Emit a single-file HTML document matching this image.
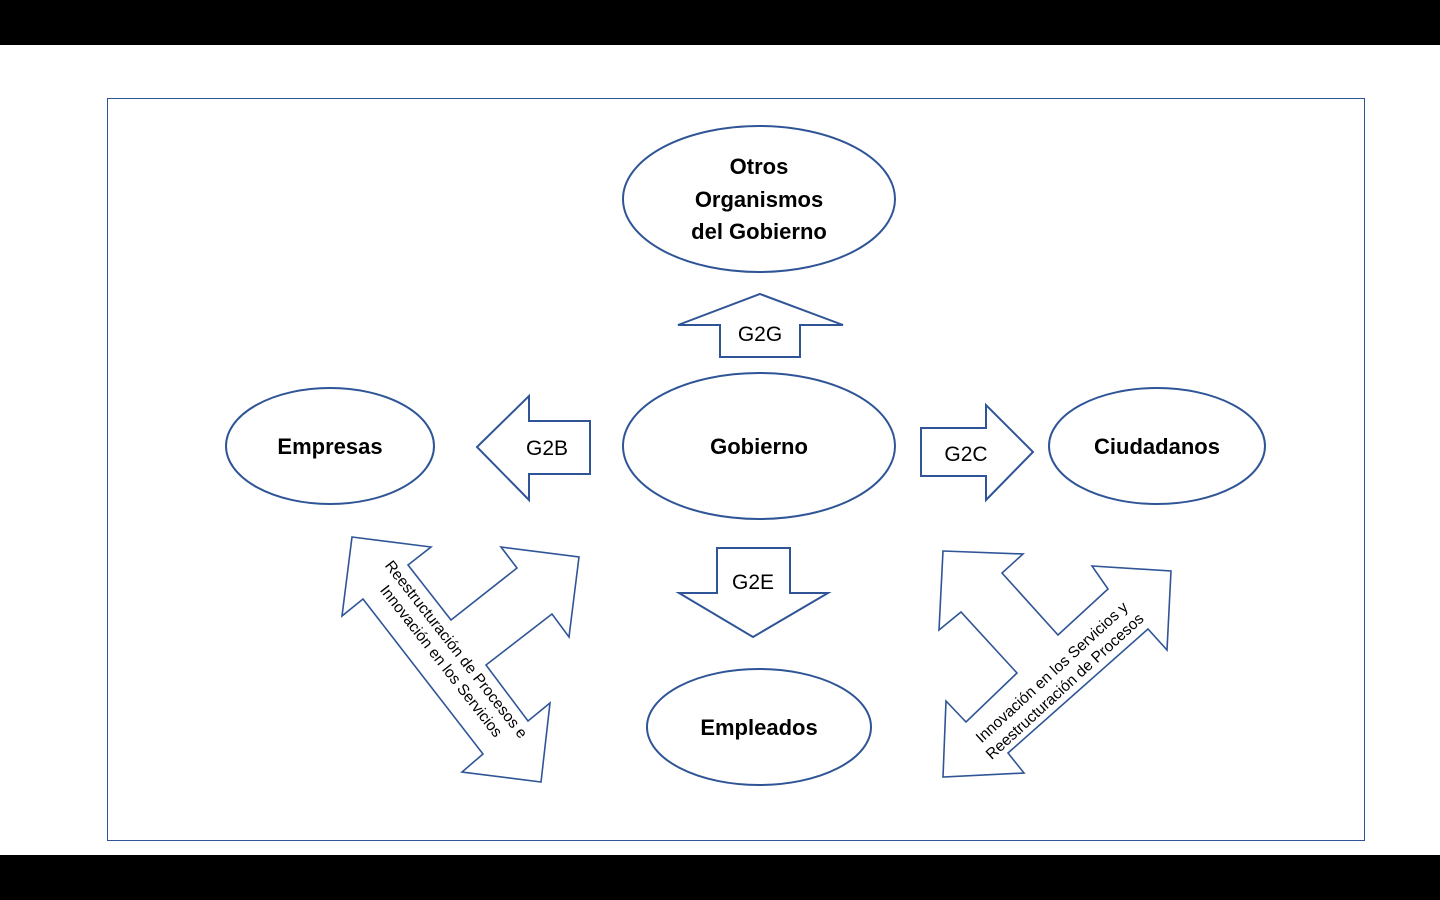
<!DOCTYPE html>
<html><head><meta charset="utf-8"><style>
html,body{margin:0;padding:0;background:#fff;}
svg{display:block;}
text{font-family:"Liberation Sans",Calibri,sans-serif;}
</style></head><body>
<svg width="1440" height="900" viewBox="0 0 1440 900" xmlns="http://www.w3.org/2000/svg">
<rect x="0" y="0" width="1440" height="900" fill="#fff"/>
<rect x="0" y="0" width="1440" height="45" fill="#000"/>
<rect x="0" y="855" width="1440" height="45" fill="#000"/>
<rect x="107.5" y="98.5" width="1257" height="742" fill="none" stroke="#2f5597" stroke-width="1"/>
<g fill="#fff" stroke="#2f5597" stroke-width="2">
<ellipse cx="759" cy="199" rx="136" ry="73"/>
<ellipse cx="759" cy="446" rx="136" ry="73"/>
<ellipse cx="330" cy="446" rx="104" ry="58"/>
<ellipse cx="1157" cy="446" rx="108" ry="58"/>
<ellipse cx="759" cy="727" rx="112" ry="58"/>
<polygon points="760,294 843,325 800,325 800,357 720,357 720,325 678,325"/>
<polygon points="477,447 529,396 529,421 590,421 590,474 529,474 529,500"/>
<polygon points="1033,452 986,405 986,428 921,428 921,476 986,476 986,500"/>
<polygon points="753,637 828,593 790,593 790,548 717,548 717,593 679,593"/>
<polygon stroke-width="1.6" points="352,537 431,547 408,565 451,620 517,568 501,547 579,557 569,637 552,614 486,665 528,721 550,703 541,782 462,772 483,754 363,599 342,616"/>
<polygon stroke-width="1.6" points="943,551 1023,554 1002,573 1058,635 1108,589 1092,566 1171,571 1167,650 1148,629 1008,753 1024,773 943,777 946,701 966,722 1017,673 961,612 939,630"/>
</g>
<g font-weight="bold" font-size="22" fill="#000" text-anchor="middle">
<text x="759" y="174">Otros</text>
<text x="759" y="207">Organismos</text>
<text x="759" y="239">del Gobierno</text>
<text x="759" y="454">Gobierno</text>
<text x="330" y="454">Empresas</text>
<text x="1157" y="454">Ciudadanos</text>
<text x="759" y="735">Empleados</text>
</g>
<g font-size="21" fill="#000" text-anchor="middle">
<text x="760" y="341">G2G</text>
<text x="547" y="455">G2B</text>
<text x="966" y="461">G2C</text>
<text x="753" y="589">G2E</text>
</g>
<g font-size="15.5" fill="#000" text-anchor="middle">
<g transform="translate(449,655) rotate(52)">
<text x="0" y="-4">Reestructuración de Procesos e</text>
<text x="0" y="15">Innovación en los Servicios</text>
</g>
<g transform="translate(1058,679) rotate(-42.5)">
<text x="0" y="-4">Innovación en los Servicios y</text>
<text x="0" y="15">Reestructuración de Procesos</text>
</g>
</g>
</svg>
</body></html>
